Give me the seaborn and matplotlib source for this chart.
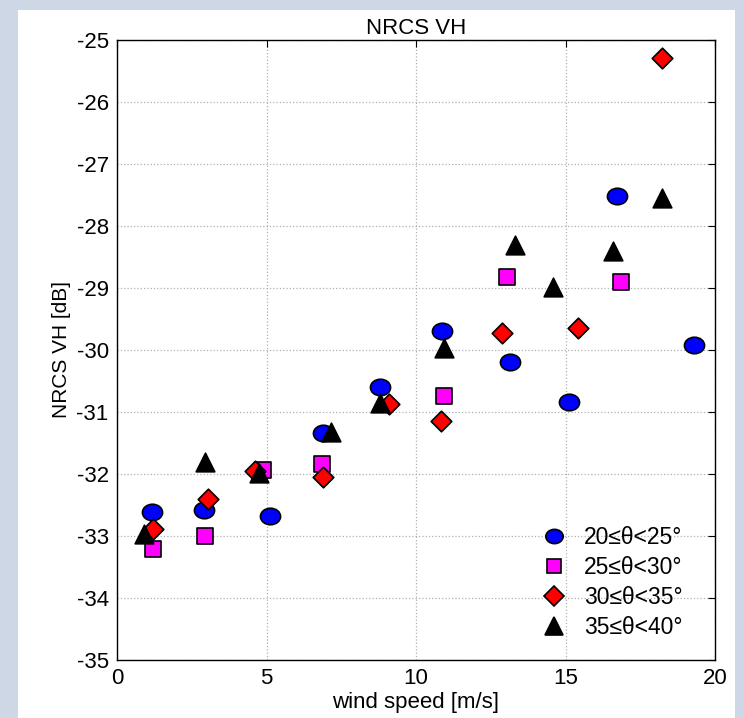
import pandas as pd
import matplotlib.pyplot as plt
import seaborn as sns
from matplotlib.lines import Line2D
from matplotlib.patches import Rectangle
from matplotlib.path import Path
from matplotlib.transforms import Affine2D

# Data (wind speed [m/s], NRCS VH [dB])
ws_20_25 = [1.18, 2.92, 5.12, 6.88, 8.80, 10.87, 13.14, 15.13, 16.71, 19.31]
vh_20_25 = [-32.61, -32.58, -32.67, -31.34, -30.60, -29.70, -30.19, -30.84, -27.52, -29.92]

ws_25_30 = [1.19, 2.95, 4.89, 6.87, 10.92, 13.03, 16.84]
vh_25_30 = [-33.21, -33.00, -31.94, -31.84, -30.74, -28.82, -28.91]

ws_30_35 = [1.19, 3.05, 4.62, 6.88, 9.10, 10.85, 12.88, 15.41, 18.23]
vh_30_35 = [-32.89, -32.41, -31.95, -32.05, -30.87, -31.14, -29.72, -29.64, -25.29]

ws_35_40 = [0.90, 2.94, 4.76, 7.15, 8.80, 10.92, 13.32, 14.59, 16.60, 18.24]
vh_35_40 = [-32.97, -31.80, -31.99, -31.32, -30.86, -29.97, -28.31, -28.98, -28.41, -27.55]

labels = ['20≤θ<25°', '25≤θ<30°', '30≤θ<35°', '35≤θ<40°']
colors = ['#0000ff', '#ff00ff', '#ff0000', '#000000']

# the circles in the original are slightly squashed ellipses
ellipse = Path.unit_circle().transformed(Affine2D().scale(1.22, 1.0))
markers = [ellipse, 's', 'D', '^']

frames = []
for lab, ws, vh in zip(labels, [ws_20_25, ws_25_30, ws_30_35, ws_35_40],
                       [vh_20_25, vh_25_30, vh_30_35, vh_35_40]):
    frames.append(pd.DataFrame({'wind': ws, 'nrcs': vh, 'angle': lab}))
df = pd.concat(frames, ignore_index=True)

sns.set_style('white')
plt.rcParams['font.family'] = ['Liberation Sans', 'DejaVu Sans']
plt.rcParams['axes.unicode_minus'] = False
plt.rcParams['text.color'] = 'black'
plt.rcParams['axes.labelcolor'] = 'black'

fig = plt.figure(figsize=(7.44, 7.18), dpi=100, facecolor='#cdd7e6')
# white slide area behind the plot
fig.patches.append(Rectangle((18 / 744, 0), 717 / 744, 708 / 718,
                             transform=fig.transFigure, facecolor='white',
                             edgecolor='none', zorder=-10))
ax = fig.add_axes([117 / 744, 1 - 660 / 718, 598 / 744, 620 / 718])
ax.set_zorder(1)

sizes = [210, 125, 110, 180]
for lab, col, mk, sz in zip(labels, colors, markers, sizes):
    sub = df[df['angle'] == lab]
    sns.scatterplot(data=sub, x='wind', y='nrcs', color=col, marker=mk,
                    s=sz, edgecolor='black', linewidth=1.2, ax=ax,
                    legend=False, zorder=3)

ax.set_xlim(0, 20)
ax.set_ylim(-35, -25)
ax.set_xticks([0, 5, 10, 15, 20])
ax.set_yticks(range(-35, -24))
ax.grid(True, linestyle=':', color='#b0b0b0', linewidth=0.9)
ax.tick_params(direction='in', top=True, right=True, length=5,
               labelsize=16, colors='black', pad=6)
for s in ax.spines.values():
    s.set_color('black')
    s.set_linewidth(1.0)

ax.set_title('NRCS VH', fontsize=16, pad=4)
ax.set_xlabel('wind speed [m/s]', fontsize=16, labelpad=2)
ax.set_ylabel('NRCS VH [dB]', fontsize=15, labelpad=4)

leg_sizes = [12.5, 10.5, 10, 12.5]
handles = [Line2D([], [], linestyle='none', marker=mk, color=col,
                  markeredgecolor='black', markersize=ms, markeredgewidth=1.2)
           for col, mk, ms in zip(colors, markers, leg_sizes)]
ax.legend(handles, labels, loc='lower right', bbox_to_anchor=(0.98, 0.0),
          frameon=False, fontsize=16.5, labelspacing=0.31, handletextpad=0.3,
          numpoints=1)

fig.savefig('out.png', dpi=100, facecolor=fig.get_facecolor())
